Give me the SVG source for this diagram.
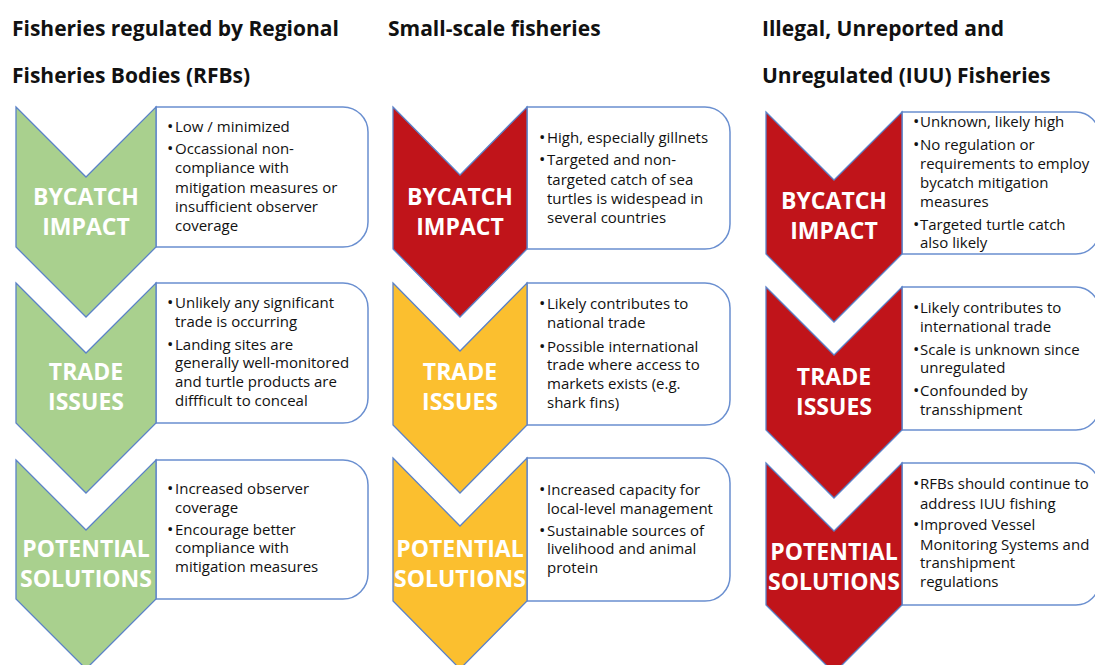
<svg xmlns="http://www.w3.org/2000/svg" width="1095" height="665" viewBox="0 0 1095 665">
  <style>
    .hdr { font-family: "Open Sans", Lato, sans-serif; font-weight: 700; font-size: 21px; fill: #111; }
    .chev { stroke: #5b82c8; stroke-width: 1.3; stroke-linejoin: miter; }
    .green { fill: #a9d08e; }
    .red { fill: #c0141a; }
    .yellow { fill: #fbbf2f; }
    .box { fill: #fff; stroke: #6a8fd0; stroke-width: 1.5; }
    .lbl { font-family: "Open Sans", Lato, sans-serif; font-weight: 700; font-size: 23px; fill: #fff; text-anchor: middle; }
    .txt { font-family: "Open Sans", Lato, sans-serif; font-size: 15px; fill: #111; }
    .b { font-size: 17px; }
  </style>
  <rect width="1095" height="665" fill="#fff"/>

  <!-- column headings -->
  <g id="headings">
    <text class="hdr" x="12" y="36">Fisheries regulated by Regional</text>
    <text class="hdr" x="12" y="83">Fisheries Bodies (RFBs)</text>
    <text class="hdr" x="388" y="36">Small-scale fisheries</text>
    <text class="hdr" x="762" y="36">Illegal, Unreported and</text>
    <text class="hdr" x="762" y="83">Unregulated (IUU) Fisheries</text>
  </g>

  <!-- Column 1: RFB-regulated fisheries -->
  <g id="rfb-bycatch">
    <path class="box" d="M156,107 H343 A25,25 0 0 1 368,132 V222 A25,25 0 0 1 343,247 H156 Z"/>
    <path class="chev green" d="M16,107 L86,177 L156,107 V247 L86,317 L16,247 Z"/>
    <text class="lbl" x="86" y="205">BYCATCH</text>
    <text class="lbl" x="86" y="235">IMPACT</text>
    <text class="txt"><tspan class="b" x="167" y="132">•</tspan><tspan x="175" y="132">Low / minimized</tspan><tspan class="b" x="167" y="154">•</tspan><tspan x="175" y="154">Occassional non-</tspan><tspan x="175" y="173">compliance with</tspan><tspan x="175" y="193">mitigation measures or</tspan><tspan x="175" y="212">insufficient observer</tspan><tspan x="175" y="231">coverage</tspan></text>
  </g>
  <g id="rfb-trade">
    <path class="box" d="M156,283 H343 A25,25 0 0 1 368,308 V398 A25,25 0 0 1 343,423 H156 Z"/>
    <path class="chev green" d="M16,283 L86,353 L156,283 V423 L86,493 L16,423 Z"/>
    <text class="lbl" x="86" y="380">TRADE</text>
    <text class="lbl" x="86" y="410">ISSUES</text>
    <text class="txt"><tspan class="b" x="167" y="308">•</tspan><tspan x="175" y="308">Unlikely any significant</tspan><tspan x="175" y="327">trade is occurring</tspan><tspan class="b" x="167" y="350">•</tspan><tspan x="175" y="350">Landing sites are</tspan><tspan x="175" y="368">generally well-monitored</tspan><tspan x="175" y="387">and turtle products are</tspan><tspan x="175" y="406">diffficult to conceal</tspan></text>
  </g>
  <g id="rfb-solutions">
    <path class="box" d="M156,460 H343 A25,25 0 0 1 368,485 V574 A25,25 0 0 1 343,599 H156 Z"/>
    <path class="chev green" d="M16,460 L86,530 L156,460 V599 L86,669 L16,599 Z"/>
    <text class="lbl" x="86" y="557">POTENTIAL</text>
    <text class="lbl" x="86" y="587">SOLUTIONS</text>
    <text class="txt"><tspan class="b" x="167" y="494">•</tspan><tspan x="175" y="494">Increased observer</tspan><tspan x="175" y="513">coverage</tspan><tspan class="b" x="167" y="535">•</tspan><tspan x="175" y="535">Encourage better</tspan><tspan x="175" y="553">compliance with</tspan><tspan x="175" y="572">mitigation measures</tspan></text>
  </g>

  <!-- Column 2: small-scale fisheries -->
  <g id="ssf-bycatch">
    <path class="box" d="M527,107 H705 A25,25 0 0 1 730,132 V224 A25,25 0 0 1 705,249 H527 Z"/>
    <path class="chev red" d="M393,107 L460,175 L527,107 V249 L460,317 L393,249 Z"/>
    <text class="lbl" x="460" y="205">BYCATCH</text>
    <text class="lbl" x="460" y="235">IMPACT</text>
    <text class="txt"><tspan class="b" x="539" y="143">•</tspan><tspan x="547" y="143">High, especially gillnets</tspan><tspan class="b" x="539" y="165">•</tspan><tspan x="547" y="165">Targeted and non-</tspan><tspan x="547" y="185">targeted catch of sea</tspan><tspan x="547" y="204">turtles is widespead in</tspan><tspan x="547" y="223">several countries</tspan></text>
  </g>
  <g id="ssf-trade">
    <path class="box" d="M527,283 H705 A25,25 0 0 1 730,308 V400 A25,25 0 0 1 705,425 H527 Z"/>
    <path class="chev yellow" d="M393,283 L460,351 L527,283 V425 L460,493 L393,425 Z"/>
    <text class="lbl" x="460" y="380">TRADE</text>
    <text class="lbl" x="460" y="410">ISSUES</text>
    <text class="txt"><tspan class="b" x="539" y="309">•</tspan><tspan x="547" y="309">Likely contributes to</tspan><tspan x="547" y="328">national trade</tspan><tspan class="b" x="539" y="352">•</tspan><tspan x="547" y="352">Possible international</tspan><tspan x="547" y="370">trade where access to</tspan><tspan x="547" y="389">markets exists (e.g.</tspan><tspan x="547" y="408">shark fins)</tspan></text>
  </g>
  <g id="ssf-solutions">
    <path class="box" d="M527,458 H705 A25,25 0 0 1 730,483 V576 A25,25 0 0 1 705,601 H527 Z"/>
    <path class="chev yellow" d="M393,458 L460,526 L527,458 V601 L460,669 L393,601 Z"/>
    <text class="lbl" x="460" y="557">POTENTIAL</text>
    <text class="lbl" x="460" y="587">SOLUTIONS</text>
    <text class="txt"><tspan class="b" x="539" y="495">•</tspan><tspan x="547" y="495">Increased capacity for</tspan><tspan x="547" y="514">local-level management</tspan><tspan class="b" x="539" y="536">•</tspan><tspan x="547" y="536">Sustainable sources of</tspan><tspan x="547" y="554">livelihood and animal</tspan><tspan x="547" y="573">protein</tspan></text>
  </g>

  <!-- Column 3: IUU fisheries -->
  <g id="iuu-bycatch">
    <path class="box" d="M902,112 H1076 A23,23 0 0 1 1099,135 V231 A23,23 0 0 1 1076,254 H902 Z"/>
    <path class="chev red" d="M766,112 L834,180 L902,112 V254 L834,322 L766,254 Z"/>
    <text class="lbl" x="834" y="209">BYCATCH</text>
    <text class="lbl" x="834" y="239">IMPACT</text>
    <text class="txt"><tspan class="b" x="913" y="127">•</tspan><tspan x="920" y="127">Unknown, likely high</tspan><tspan class="b" x="913" y="150">•</tspan><tspan x="920" y="150">No regulation or</tspan><tspan x="920" y="169">requirements to employ</tspan><tspan x="920" y="188">bycatch mitigation</tspan><tspan x="920" y="207">measures</tspan><tspan class="b" x="913" y="230">•</tspan><tspan x="920" y="230">Targeted turtle catch</tspan><tspan x="920" y="248">also likely</tspan></text>
  </g>
  <g id="iuu-trade">
    <path class="box" d="M902,287 H1076 A23,23 0 0 1 1099,310 V407 A23,23 0 0 1 1076,430 H902 Z"/>
    <path class="chev red" d="M766,287 L834,355 L902,287 V430 L834,498 L766,430 Z"/>
    <text class="lbl" x="834" y="385">TRADE</text>
    <text class="lbl" x="834" y="415">ISSUES</text>
    <text class="txt"><tspan class="b" x="913" y="313">•</tspan><tspan x="920" y="313">Likely contributes to</tspan><tspan x="920" y="332">international trade</tspan><tspan class="b" x="913" y="355">•</tspan><tspan x="920" y="355">Scale is unknown since</tspan><tspan x="920" y="373">unregulated</tspan><tspan class="b" x="913" y="396">•</tspan><tspan x="920" y="396">Confounded by</tspan><tspan x="920" y="415">transshipment</tspan></text>
  </g>
  <g id="iuu-solutions">
    <path class="box" d="M902,463 H1076 A23,23 0 0 1 1099,486 V582 A23,23 0 0 1 1076,605 H902 Z"/>
    <path class="chev red" d="M766,463 L834,531 L902,463 V605 L834,673 L766,605 Z"/>
    <text class="lbl" x="834" y="560">POTENTIAL</text>
    <text class="lbl" x="834" y="590">SOLUTIONS</text>
    <text class="txt"><tspan class="b" x="913" y="489">•</tspan><tspan x="920" y="489">RFBs should continue to</tspan><tspan x="920" y="509">address IUU fishing</tspan><tspan class="b" x="913" y="530">•</tspan><tspan x="920" y="530">Improved Vessel</tspan><tspan x="920" y="550">Monitoring Systems and</tspan><tspan x="920" y="568">transhipment</tspan><tspan x="920" y="587">regulations</tspan></text>
  </g>

  <!-- no connectors: the chevrons themselves carry the flow -->
  <g id="connectors"/>
</svg>
